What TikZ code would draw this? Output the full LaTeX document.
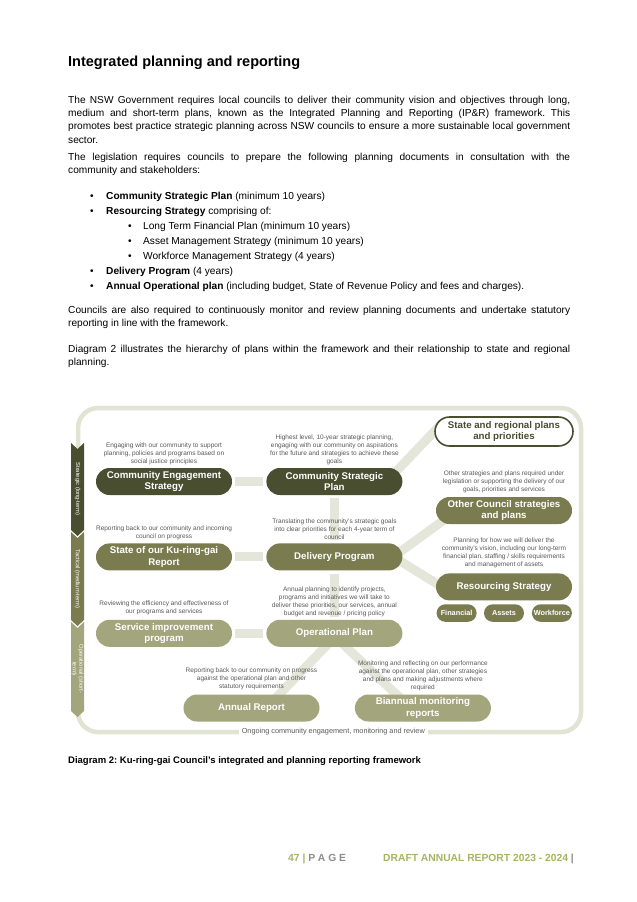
\documentclass[tikz,border=0pt]{standalone}
\usepackage{fontspec}
\setmainfont{Liberation Sans}
\usetikzlibrary{positioning,backgrounds}

\definecolor{darkolive}{RGB}{74,78,48}
\definecolor{midolive}{RGB}{122,124,79}
\definecolor{lightolive}{RGB}{163,165,124}
\definecolor{barcol}{RGB}{229,230,218}
\definecolor{framecol}{RGB}{225,227,211}
\definecolor{notegrey}{RGB}{89,89,89}
\definecolor{footgreen}{RGB}{167,181,95}
\definecolor{footgrey}{RGB}{140,140,140}
\tolerance=10000
\hbadness=10000
\frenchspacing

\begin{document}
\begin{tikzpicture}[x=1pt,y=-1pt,
    body/.style={font=\fontsize{10.15}{13.2}\selectfont,text width=502pt,align=justify,inner sep=0pt,anchor=north west,execute at begin node={\noindent\strut}},
    item/.style={font=\fontsize{10.15}{13.2}\selectfont,inner sep=0pt,anchor=base west},
    plan node/.style={rounded corners=13.5pt,minimum width=136pt,minimum height=27pt,inner sep=0pt,align=center,text=white,font=\fontsize{9.7}{11.5}\selectfont\bfseries},
    note node/.style={align=center,inner sep=0pt,text=notegrey,font=\fontsize{6.5}{8}\selectfont},
    tool node/.style={rounded corners=8.75pt,minimum width=40pt,minimum height=17.5pt,inner sep=0pt,fill=midolive,text=white,font=\fontsize{7.3}{8}\selectfont\bfseries},
    bar/.style={line width=9pt,draw=barcol,shorten >=3pt,shorten <=3pt},
    stage/.style={text=white,rotate=-90,align=center,inner sep=0pt,font=\fontsize{5.8}{6.6}\selectfont}]
    \useasboundingbox (0,0) rectangle (637,902);

    % page text
    \node[anchor=base west,inner sep=0pt,font=\fontsize{14.5}{17}\selectfont\bfseries] (title) at (68,66) {Integrated planning and reporting};
    \node[body] (para1) at (68,94) {The NSW Government requires local councils to deliver their community vision and objectives through long,\linebreak medium and short-term plans, known as the Integrated Planning and Reporting (IP\&R) framework. This\linebreak promotes best practice strategic planning across NSW councils to ensure a more sustainable local government\linebreak sector.};
    \node[body] (para2) at (68,150.8) {The legislation requires councils to prepare the following planning documents in consultation with the\linebreak community and stakeholders:};
    \node[item] (b1) at (90,199.3) {\makebox[16pt][l]{•}\textbf{Community Strategic Plan} (minimum 10 years)};
    \node[item] (b2) at (90,214.3) {\makebox[16pt][l]{•}\textbf{Resourcing Strategy} comprising of:};
    \node[item] (b3) at (128,229.3) {\makebox[15pt][l]{•}Long Term Financial Plan (minimum 10 years)};
    \node[item] (b4) at (128,244.3) {\makebox[15pt][l]{•}Asset Management Strategy (minimum 10 years)};
    \node[item] (b5) at (128,259.3) {\makebox[15pt][l]{•}Workforce Management Strategy (4 years)};
    \node[item] (b6) at (90,274.3) {\makebox[16pt][l]{•}\textbf{Delivery Program} (4 years)};
    \node[item] (b7) at (90,289.3) {\makebox[16pt][l]{•}\textbf{Annual Operational plan} (including budget, State of Revenue Policy and fees and charges).};
    \node[body] (para3) at (68,304.3) {Councils are also required to continuously monitor and review planning documents and undertake statutory\linebreak reporting in line with the framework.};
    \node[body] (para4) at (68,343.3) {Diagram 2 illustrates the hierarchy of plans within the framework and their relationship to state and regional\linebreak planning.};

    % plans
    \node[plan node,fill=darkolive] (ces) at (164,481.5) {Community Engagement\\Strategy};
    \node[plan node,fill=darkolive,right=34pt of ces] (csp) {Community Strategic\\Plan};
    \node[plan node,fill=midolive,below=48pt of ces] (sok) {State of our Ku-ring-gai\\Report};
    \node[plan node,fill=midolive,below=48pt of csp] (dp) {Delivery Program};
    \node[plan node,fill=lightolive,below=49pt of sok] (sip) {Service improvement\\program};
    \node[plan node,fill=lightolive,below=49pt of dp] (op) {Operational Plan};
    \node[plan node,fill=lightolive] (ar) at (251.5,708) {Annual Report};
    \node[plan node,fill=lightolive,right=35pt of ar] (bmr) {Biannual monitoring\\reports};
    \node[plan node,fill=midolive] (other) at (504,510.5) {Other Council strategies\\and plans};
    \node[plan node,fill=midolive,below=49pt of other] (rs) {Resourcing Strategy};
    \node[plan node,draw=darkolive,line width=1.6pt,fill=white,text=darkolive,minimum width=138pt,minimum height=29pt,rounded corners=14.5pt,above=50pt of other] (state) {State and regional plans\\and priorities};
    \node[tool node,below=3.5pt of rs] (assets) {Assets};
    \node[tool node,left=7pt of assets] (fin) {Financial};
    \node[tool node,right=7.5pt of assets] (wf) {Workforce};

    % frame and links behind the plans
    \begin{scope}[on background layer]
        \fill[white] (0,0) rectangle (637,902);
        \draw[framecol,line width=4.5pt,rounded corners=20pt] (78,470) -- (78,408) -- (581,408) -- (581,732) -- (78,732) -- (78,690);
        \path[bar]
            (ces) edge (csp)
            (sok) edge (dp)
            (sip) edge (op)
            (csp) edge (dp)
            (dp) edge (op)
            ([xshift=-16pt]csp.east) edge[shorten >=-12pt] (state.west)
            ([xshift=-9.4pt]dp.east) edge[shorten >=-4pt] ([shift={(12pt,7pt)}]other.south west)
            ([xshift=-9pt]dp.east) edge[shorten >=-4pt] ([xshift=6pt]rs.west)
            ([xshift=4pt]op.center) edge[shorten >=-4pt] ([xshift=14.5pt]ar.center)
            ([xshift=-3pt]op.center) edge[shorten >=-4pt] ([xshift=-12pt]bmr.center);
    \end{scope}

    % planning horizons
    \fill[darkolive] (71,443) -- (77.5,449) -- (84,443) -- (84,530) -- (77.5,536) -- (71,530) -- cycle;
    \fill[midolive] (71,532) -- (77.5,538) -- (84,532) -- (84,620) -- (77.5,626) -- (71,620) -- cycle;
    \fill[lightolive] (71,622) -- (77.5,628) -- (84,622) -- (84,711) -- (77.5,717) -- (71,711) -- cycle;
    \node[stage] (long) at (77.5,489) {Strategic (long-term)};
    \node[stage] (medium) at (77.5,579) {Tactical (medium-term)};
    \node[stage] (short) at (77.5,669) {Operational (short-\\term)};

    % notes above the plans
    \node[note node,above=3pt of ces] (cesnote) {Engaging with our community to support\\planning, policies and programs based on\\social justice principles};
    \node[note node,above=3pt of csp] (cspnote) {Highest level, 10-year strategic planning,\\engaging with our community on aspirations\\for the future and strategies to achieve these\\goals};
    \node[note node,above=3pt of sok] (soknote) {Reporting back to our community and incoming\\council on progress};
    \node[note node,above=3pt of dp] (dpnote) {Translating the community’s strategic goals\\into clear priorities for each 4-year term of\\council};
    \node[note node,above=5pt of sip] (sipnote) {Reviewing the efficiency and effectiveness of\\our programs and services};
    \node[note node,above=2.5pt of op] (opnote) {Annual planning to identify projects,\\programs and initiatives we will take to\\deliver these priorities, our services, annual\\budget and revenue / pricing policy};
    \node[note node,above=4pt of ar] (arnote) {Reporting back to our community on progress\\against the operational plan and other\\statutory requirements};
    \node[note node,above=3pt of bmr] (bmrnote) {Monitoring and reflecting on our performance\\against the operational plan, other strategies\\and plans and making adjustments where\\required};
    \node[note node,above=4pt of other] (othernote) {Other strategies and plans required under\\legislation or supporting the delivery of our\\goals, priorities and services};
    \node[note node,above=5pt of rs] (rsnote) {Planning for how we will deliver the\\community’s vision, including our long-term\\financial plan, staffing / skills requirements\\and management of assets};
    \node[fill=white,inner xsep=3pt,inner ysep=1pt,text=notegrey,font=\fontsize{7.3}{8}\selectfont] (ongoing) at (333.3,732) {Ongoing community engagement, monitoring and review};

    % caption and footer
    \node[anchor=base west,inner sep=0pt,font=\fontsize{9.5}{11}\selectfont\bfseries] (figcap) at (68,763) {Diagram 2: Ku-ring-gai Council’s integrated and planning reporting framework};
    \node[anchor=base west,inner sep=0pt,font=\fontsize{10.3}{12}\selectfont\bfseries] (page) at (288,861.5) {\textcolor{footgreen}{47 |} \textcolor{footgrey}{P A G E}};
    \node[anchor=base west,inner sep=0pt,font=\fontsize{10.3}{12}\selectfont\bfseries] (report) at (383,861.5) {\textcolor{footgreen}{DRAFT ANNUAL REPORT 2023 - 2024} \textcolor{footgrey}{|}};
\end{tikzpicture}
\end{document}
